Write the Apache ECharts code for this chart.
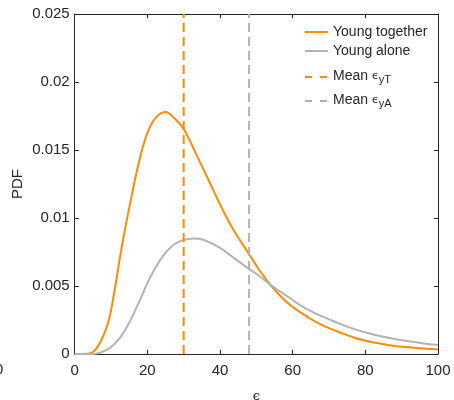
<!DOCTYPE html>
<html>
<head>
<meta charset="utf-8">
<script src="https://cdn.jsdelivr.net/npm/echarts@6/dist/echarts.min.js"></script>
<style>html,body{margin:0;padding:0;background:#fff}#c{width:454px;height:400px}</style>
</head>
<body>
<div id="c"></div>
<script>
var xTicks = [0, 20, 40, 60, 80, 100];
var yTicks = [0, 0.005, 0.01, 0.015, 0.02, 0.025];
var seriesNames = ['Young together', 'Young alone', 'Mean ϵ_yT', 'Mean ϵ_yA'];
var youngTogether = [[0,0],[2,0],[3.5,0.00002],[5,0.00015],[6.5,0.0006],[8,0.0014],[9.5,0.0026],[11,0.0047],[12.9,0.0078],[15.2,0.0110],[17.5,0.0139],[19.8,0.0161],[22.1,0.0173],[24.9,0.0178],[27.6,0.0173],[30.1,0.0165],[33.6,0.0146],[37,0.0127],[40,0.0110],[42.7,0.0096],[45.4,0.0084],[48.1,0.0073],[51,0.0061],[53.8,0.0051],[56.5,0.0043],[59.3,0.0036],[62.5,0.0030],[66.1,0.0024],[70,0.0019],[73.9,0.0015],[77,0.0012],[80.4,0.00096],[84,0.00077],[87.7,0.00061],[92,0.00049],[96,0.0004],[100,0.00034]];
var youngAlone = [[0,0],[5,0],[7,0.0001],[9.7,0.00044],[12.5,0.0012],[15.2,0.0024],[18,0.0040],[20.7,0.0056],[23.5,0.0069],[26.2,0.0078],[29,0.0083],[32.6,0.0085],[35.4,0.0084],[40,0.0078],[44.6,0.0069],[48.3,0.0062],[51,0.0057],[53.8,0.0051],[56.5,0.0046],[59.3,0.0041],[62,0.0036],[66.1,0.0030],[70,0.00255],[73.9,0.00212],[77,0.00183],[80.4,0.00156],[84,0.00132],[87.7,0.00112],[92,0.00093],[96,0.00078],[100,0.00066]];
var meanTogether = 30.0;
var meanAlone = 48.0;

var ORANGE = '#ff8c00', GRAY = '#b3b3b3', AX = '#262626';
var FONT = 'Liberation Sans';
var chart = echarts.init(document.getElementById('c'), null, {renderer: 'canvas'});

function legendFmt(name) {
  var m = name.match(/^Mean ϵ_(\w+)$/);
  if (m) return '{m|Mean }{eps|ϵ}{sub|' + m[1] + '}';
  return name;
}
var legendRich = {
  m: {fontSize: 14, fontFamily: FONT, color: AX, verticalAlign: 'top', lineHeight: 16},
  eps: {fontSize: 11, fontFamily: 'DejaVu Sans', color: AX, verticalAlign: 'top', lineHeight: 16, padding: [2, 0, 0, 0]},
  sub: {fontSize: 11, fontFamily: FONT, color: AX, verticalAlign: 'bottom', lineHeight: 12, padding: [12, 0, 0, 0]}
};
function mkLegend(name, top, dashed) {
  var l = {
    data: [name], left: 304, top: top, padding: 0, orient: 'vertical',
    itemWidth: 23, itemHeight: 14, formatter: legendFmt,
    textStyle: {fontSize: 14, fontFamily: FONT, color: AX, rich: legendRich},
    itemStyle: {opacity: 0, borderWidth: 0},
    selectedMode: false
  };
  if (dashed) l.lineStyle = {type: [7, 8], width: 2};
  else l.lineStyle = {width: 2};
  return l;
}

var axisCommon = {
  type: 'value',
  axisLine: {show: true, onZero: false, lineStyle: {color: AX, width: 1}},
  axisTick: {show: true, inside: true, length: 4, lineStyle: {color: AX}},
  splitLine: {show: false}
};

var option = {
  animation: false,
  grid: {left: 74.7, right: 16, top: 14, bottom: 46, containLabel: false, outerBoundsMode: 'none'},
  legend: [mkLegend(seriesNames[0], 25, false), mkLegend(seriesNames[1], 44, false), mkLegend(seriesNames[2], 62, true), mkLegend(seriesNames[3], 86, true)],
  xAxis: [
    Object.assign({}, axisCommon, {
      position: 'bottom', min: xTicks[0], max: xTicks[xTicks.length - 1], interval: 20,
      axisLabel: {fontSize: 15, fontFamily: FONT, color: AX, margin: 9},
      name: 'ϵ', nameLocation: 'middle', nameGap: 36, nameMoveOverlap: false,
      nameTextStyle: {fontSize: 13, fontFamily: 'DejaVu Serif', color: AX}
    }),
    Object.assign({}, axisCommon, {
      position: 'top', min: xTicks[0], max: xTicks[xTicks.length - 1], interval: 20,
      axisLabel: {show: false}
    })
  ],
  yAxis: [
    Object.assign({}, axisCommon, {
      position: 'left', min: yTicks[0], max: yTicks[yTicks.length - 1], interval: 0.005,
      axisLabel: {fontSize: 15, fontFamily: FONT, color: AX, margin: 5,
        formatter: function (v) { return String(+v.toFixed(3)); }},
      name: 'PDF', nameLocation: 'middle', nameGap: 49, nameRotate: 90, nameMoveOverlap: false,
      nameTextStyle: {fontSize: 15, fontFamily: FONT, color: AX}
    }),
    Object.assign({}, axisCommon, {
      position: 'right', min: yTicks[0], max: yTicks[yTicks.length - 1], interval: 0.005,
      axisLabel: {show: false}
    })
  ],
  series: [
    {name: seriesNames[0], type: 'line', data: youngTogether, showSymbol: false, symbol: 'none',
     smooth: 0.4, lineStyle: {color: ORANGE, width: 2}, itemStyle: {color: ORANGE}},
    {name: seriesNames[1], type: 'line', data: youngAlone, showSymbol: false, symbol: 'none',
     smooth: 0.4, lineStyle: {color: GRAY, width: 2}, itemStyle: {color: GRAY}},
    {name: seriesNames[2], type: 'line', data: [[meanTogether, yTicks[0]], [meanTogether, yTicks[yTicks.length - 1]]],
     showSymbol: false, symbol: 'none', lineStyle: {color: ORANGE, width: 2, type: [9, 5]}, itemStyle: {color: ORANGE}},
    {name: seriesNames[3], type: 'line', data: [[meanAlone, yTicks[0]], [meanAlone, yTicks[yTicks.length - 1]]],
     showSymbol: false, symbol: 'none', lineStyle: {color: GRAY, width: 2, type: [9, 5]}, itemStyle: {color: GRAY}}
  ],
  graphic: [
    {type: 'text', left: -5, top: 362, style: {text: '0', fontSize: 15, fontFamily: FONT, fill: AX}}
  ]
};
chart.setOption(option);
</script>
</body>
</html>
